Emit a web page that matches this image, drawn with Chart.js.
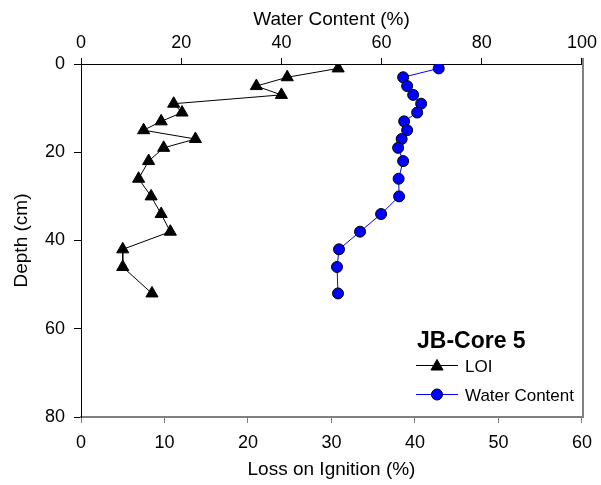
<!DOCTYPE html>
<html><head><meta charset="utf-8">
<script src="https://cdn.jsdelivr.net/npm/chart.js@4"></script>
<style>html,body{margin:0;padding:0;background:#fff;}#wrap{width:601px;height:485px;position:relative}</style>
</head><body><div id="wrap"><canvas id="c" width="601" height="485"></canvas></div>
<script>
const depthLOI = [1,3,5,7,9,11,13,15,17,19,22,26,30,34,38,42,46,52];
const loi = [30.8,24.7,21.0,24.0,11.1,12.1,9.6,7.5,13.7,9.9,8.1,6.9,8.4,9.6,10.7,5.0,5.0,8.5];
const depthWC = [1,3,5,7,9,11,13,15,17,19,22,26,30,34,38,42,46,52];
const waterContent = [71.4,64.3,65.1,66.3,67.9,67.1,64.5,65.1,64.0,63.3,64.3,63.4,63.5,59.9,55.7,51.5,51.1,51.3];
const loiTicks = [0,10,20,30,40,50,60];
const wcTicks = [0,20,40,60,80,100];
const depthTicks = [0,20,40,60,80];
const chartTitle = 'JB-Core 5';
const seriesNames = ['LOI','Water Content'];

const FONT = 'Arial, "Liberation Sans", sans-serif';
const GREY = '#808080';
const TICK_FS = 18, TITLE_FS = 19;

const rightBorder = {
  id:'rightBorder',
  afterDatasetsDraw(chart){
    const {ctx, chartArea:a} = chart;
    ctx.save();
    ctx.strokeStyle = GREY; ctx.lineWidth = 2;
    ctx.beginPath(); ctx.moveTo(a.right+1, a.top-6); ctx.lineTo(a.right+1, a.bottom+1); ctx.stroke();
    ctx.restore();
  }
};

const legendBox = {
  id:'legendBox',
  afterDatasetsDraw(chart){
    const ctx = chart.ctx;
    ctx.save();
    ctx.fillStyle = '#000';
    ctx.textBaseline = 'alphabetic';
    ctx.textAlign = 'left';
    ctx.font = 'bold 23px ' + FONT;
    ctx.fillText(chartTitle, 417, 348);
    ctx.font = '17px ' + FONT;
    const rows = [{y:365.5, ds:chart.data.datasets[0]},{y:394.5, ds:chart.data.datasets[1]}];
    rows.forEach((r,i)=>{
      ctx.strokeStyle = r.ds.borderColor; ctx.lineWidth = 1;
      ctx.beginPath(); ctx.moveTo(416, r.y); ctx.lineTo(458, r.y); ctx.stroke();
      ctx.fillStyle = r.ds.pointBackgroundColor; ctx.strokeStyle = r.ds.pointBorderColor;
      ctx.beginPath();
      const cx = 437;
      if (i===0){
        const rr = r.ds.pointRadius, cy=r.y+1;
        ctx.moveTo(cx, cy-rr); ctx.lineTo(cx+rr*0.866, cy+rr*0.5); ctx.lineTo(cx-rr*0.866, cy+rr*0.5); ctx.closePath();
      } else {
        ctx.arc(cx, r.y, r.ds.pointRadius, 0, Math.PI*2);
      }
      ctx.fill(); ctx.stroke();
      ctx.fillStyle = '#000';
      ctx.fillText(seriesNames[i], 465, r.y + 6);
    });
    ctx.restore();
  }
};

new Chart(document.getElementById('c'), {
  type:'scatter',
  data:{
    datasets:[
      {label:seriesNames[0], data:loi.map((v,i)=>({x:v,y:depthLOI[i]})), xAxisID:'x', yAxisID:'y',
       showLine:true, borderColor:'#000', borderWidth:1, pointStyle:'triangle', pointRadius:7,
       pointBackgroundColor:'#000', pointBorderColor:'#000', pointBorderWidth:1, order:2},
      {label:seriesNames[1], data:waterContent.map((v,i)=>({x:v,y:depthWC[i]})), xAxisID:'x2', yAxisID:'y',
       showLine:true, borderColor:'#0000ff', borderWidth:1, pointStyle:'circle', pointRadius:5.5,
       pointBackgroundColor:'#0000ff', pointBorderColor:'#000', pointBorderWidth:1, order:1}
    ]
  },
  options:{
    responsive:false, animation:false, devicePixelRatio:1,
    layout:{padding:{left:0,right:19,top:0,bottom:0}},
    plugins:{legend:{display:false}, tooltip:{enabled:false}},
    scales:{
      x:{type:'linear', position:'bottom', min:0, max:60,
        afterBuildTicks(s){ s.ticks = loiTicks.map(v=>({value:v})); },
        afterFit(s){ s.height = 68; },
        ticks:{color:'#000', font:{size:TICK_FS, family:FONT}, padding:9, maxRotation:0},
        grid:{drawOnChartArea:false, drawTicks:true, tickLength:6, color:GREY, tickColor:GREY},
        border:{display:true, color:GREY, width:2},
        title:{display:true, text:'Loss on Ignition (%)', color:'#000', font:{size:TITLE_FS, family:FONT}, padding:{top:0,bottom:4}}},
      x2:{type:'linear', position:'top', min:0, max:100,
        afterBuildTicks(s){ s.ticks = wcTicks.map(v=>({value:v})); },
        afterFit(s){ s.height = 64; },
        ticks:{color:'#000', font:{size:TICK_FS, family:FONT}, padding:4, maxRotation:0},
        grid:{drawOnChartArea:false, drawTicks:true, tickLength:6, color:'#000', tickColor:'#000'},
        border:{display:true, color:'#000', width:1},
        title:{display:true, text:'Water Content (%)', color:'#000', font:{size:TITLE_FS, family:FONT}, padding:{top:8,bottom:0}}},
      y:{type:'linear', position:'left', min:0, max:80, reverse:true,
        afterBuildTicks(s){ s.ticks = depthTicks.map(v=>({value:v})); },
        afterFit(s){ s.width = 81; },
        ticks:{color:'#000', font:{size:TICK_FS, family:FONT}, padding:9},
        grid:{drawOnChartArea:false, drawTicks:true, tickLength:7, color:'#000', tickColor:'#000'},
        border:{display:true, color:'#000', width:1},
        title:{display:true, text:'Depth (cm)', color:'#000', font:{size:TITLE_FS, family:FONT}, padding:{top:10,bottom:0}}}
    }
  },
  plugins:[rightBorder, legendBox]
});
</script></body></html>
